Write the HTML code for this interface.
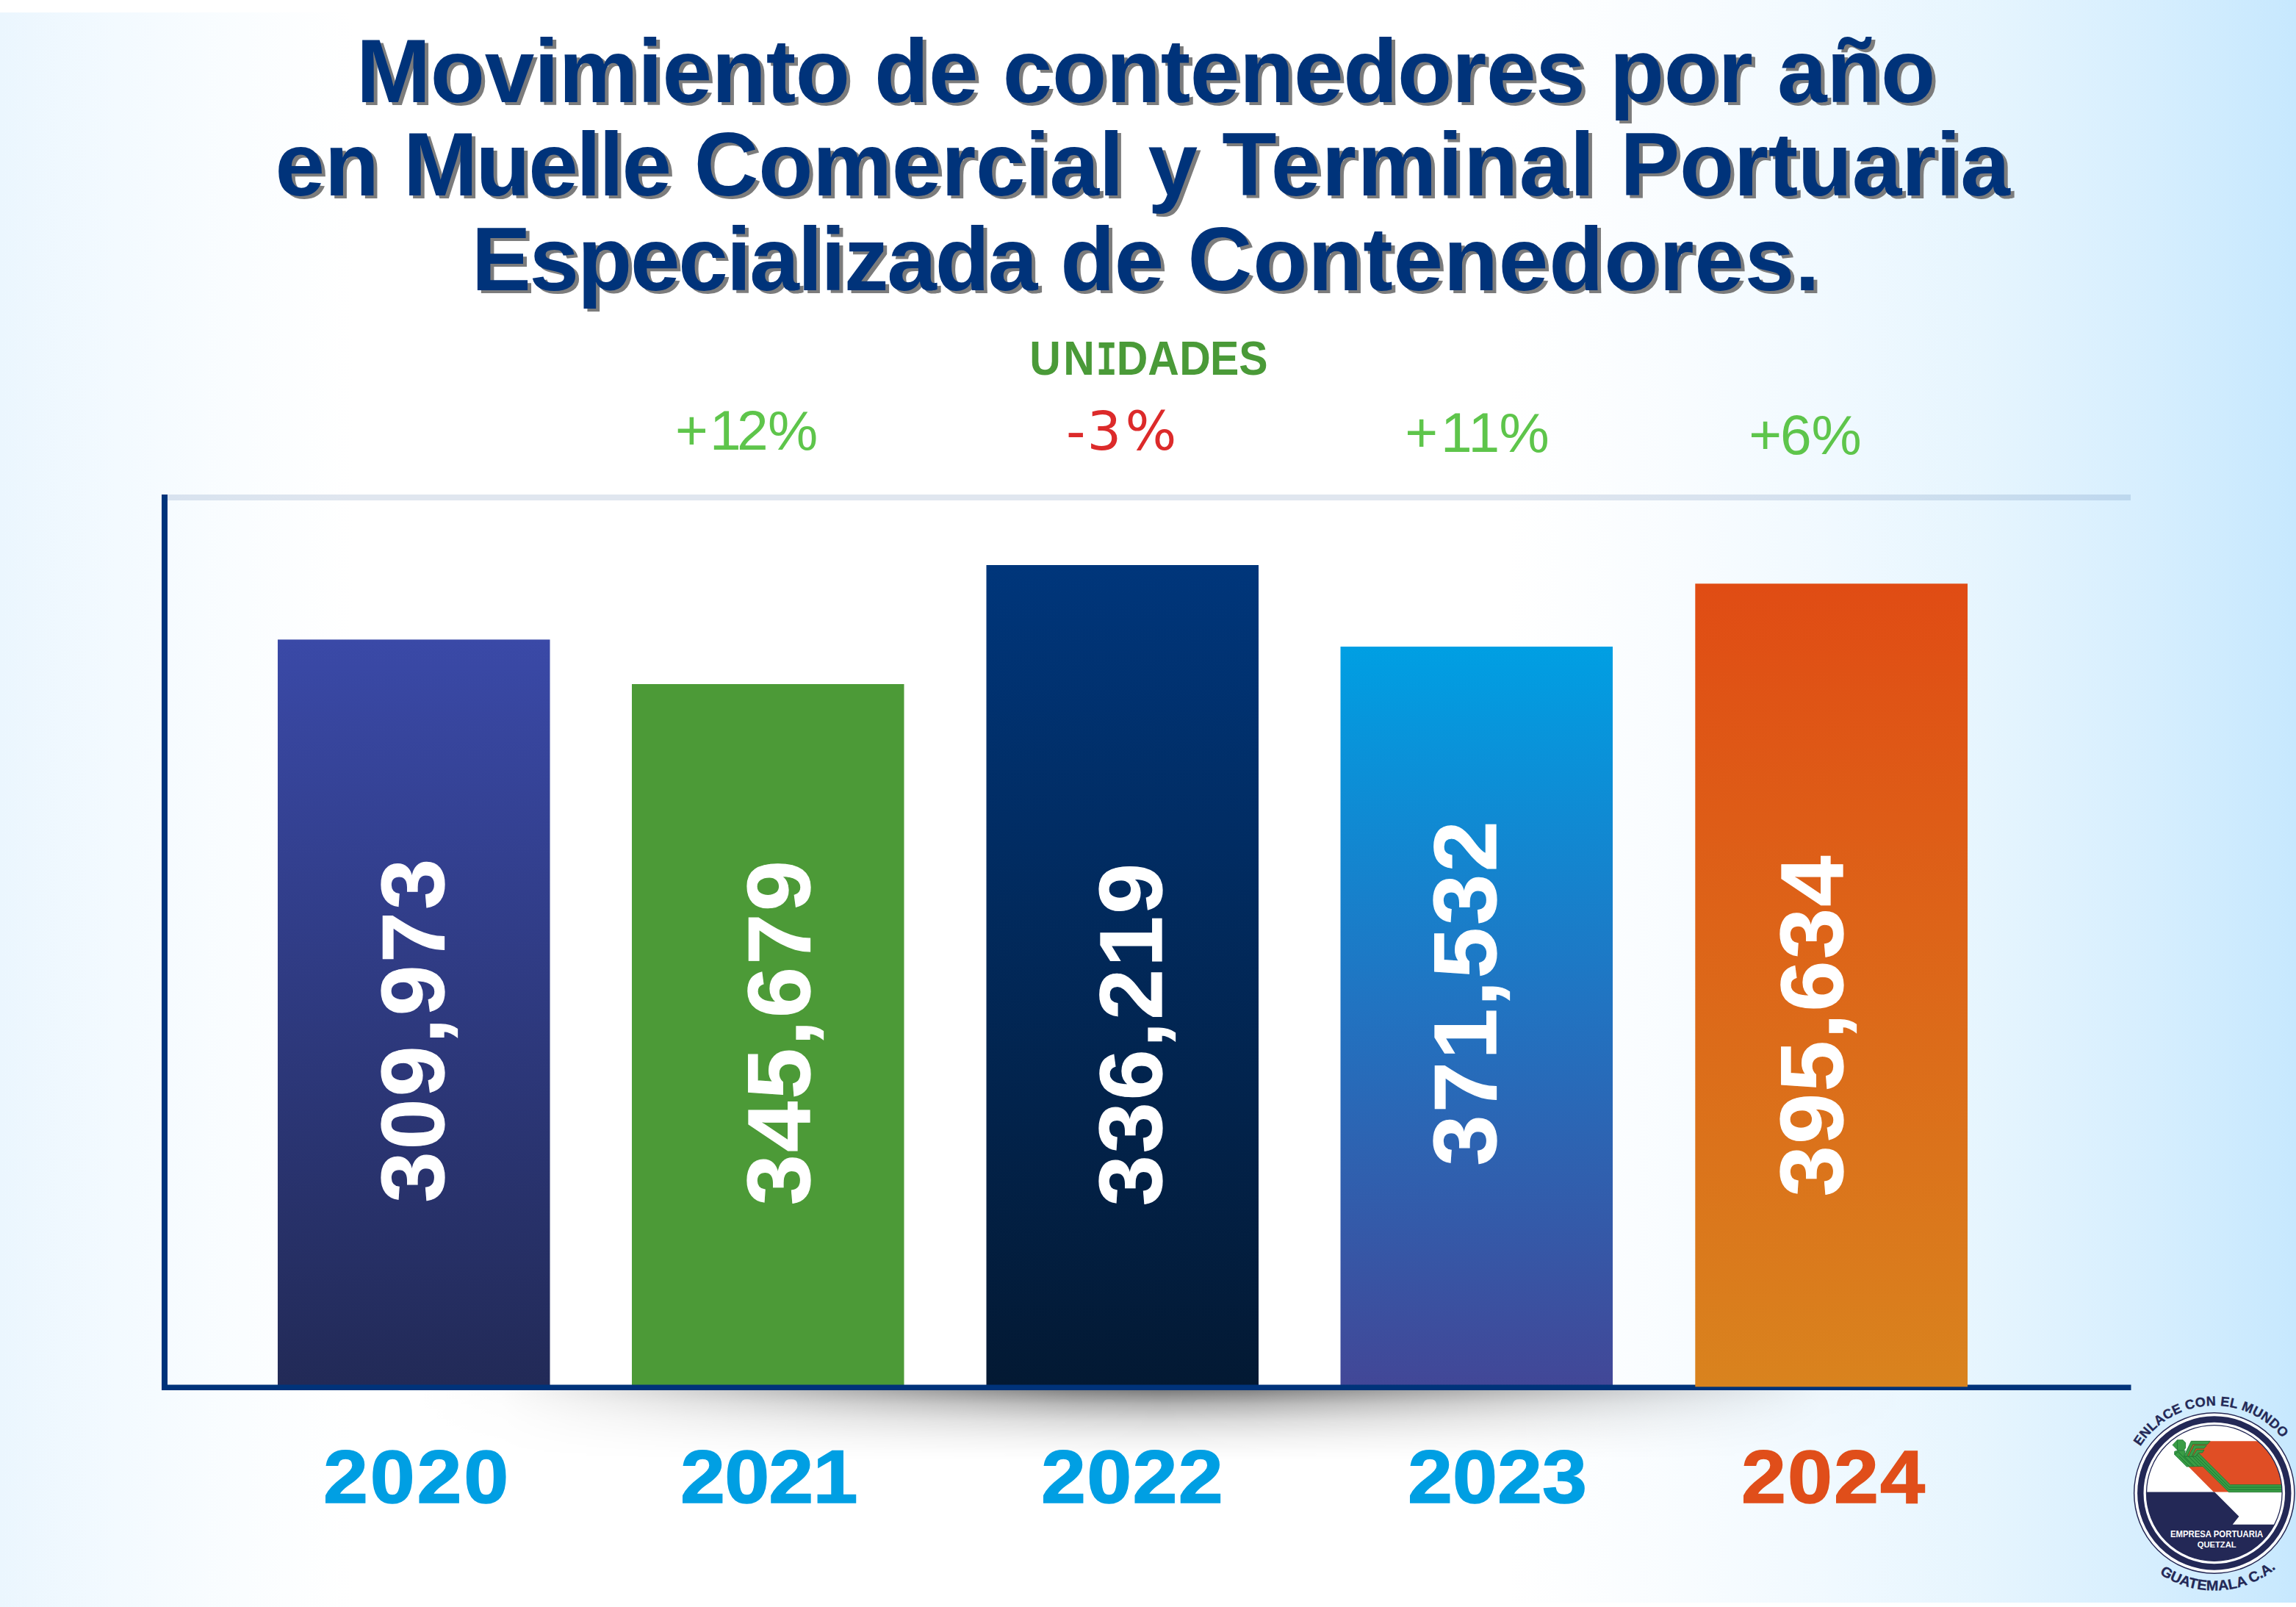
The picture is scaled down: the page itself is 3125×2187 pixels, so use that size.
<!DOCTYPE html>
<html lang="es">
<head>
<meta charset="utf-8">
<title>Movimiento de contenedores por año</title>
<style>
html,body{margin:0;padding:0;background:#fff;}
body{width:3125px;height:2187px;position:relative;overflow:hidden;font-family:"Liberation Sans",sans-serif;}
#bgL{position:absolute;left:0;top:16.5px;width:520px;height:2170.5px;background:linear-gradient(90deg,#ebf6fe 0px,#f3faff 160px,#fafdff 330px,#ffffff 480px);}
#bgR{position:absolute;left:2050px;top:0;width:1075px;height:2180.7px;background:linear-gradient(90deg,#ffffff 0px,#f8fcff 250px,#f0f9ff 450px,#e6f5fe 650px,#d8effe 850px,#c7e8fe 1075px);}
.t{position:absolute;left:0;width:3125px;text-align:center;white-space:nowrap;font-weight:bold;font-size:121.5px;line-height:130px;color:#00337a;letter-spacing:0px;text-shadow:5px 4px 0 #7c7c7c;}
svg{position:absolute;left:0;top:0;}
</style>
</head>
<body>
<div id="bgL"></div><div id="bgR"></div>
<div class="t" id="t1" style="top:31.5px;letter-spacing:-0.33px;transform:translateX(-3px)">Movimiento de contenedores por año</div>
<div class="t" id="t2" style="top:159.4px;letter-spacing:-0.35px;transform:translateX(-7.5px)">en <span style="letter-spacing:-2.6px">Muelle</span> Comercial y <span style="letter-spacing:1.4px">Terminal</span> Portuaria</div>
<div class="t" id="t3" style="top:288px;letter-spacing:-0.7px;transform:translateX(-2.8px)"><span style="letter-spacing:-2.2px">Especializada</span> de <span style="letter-spacing:0.8px">Contenedores.</span></div>
<svg width="3125" height="2187" viewBox="0 0 3125 2187">
<defs>
<linearGradient id="g1" x1="0" y1="0" x2="0" y2="1"><stop offset="0" stop-color="#3a49a7"/><stop offset="1" stop-color="#222a57"/></linearGradient>
<linearGradient id="g3" x1="0" y1="0" x2="0" y2="1"><stop offset="0" stop-color="#00367b"/><stop offset="1" stop-color="#031933"/></linearGradient>
<linearGradient id="g4" x1="0" y1="0" x2="0" y2="1"><stop offset="0" stop-color="#009fe3"/><stop offset="0.5" stop-color="#2272c0"/><stop offset="1" stop-color="#424797"/></linearGradient>
<linearGradient id="g5" x1="0" y1="0" x2="0" y2="1"><stop offset="0" stop-color="#e04c14"/><stop offset="1" stop-color="#d9831e"/></linearGradient>
<linearGradient id="shv" x1="0" y1="0" x2="0" y2="1"><stop offset="0" stop-color="#000" stop-opacity="0.52"/><stop offset="0.22" stop-color="#000" stop-opacity="0.29"/><stop offset="0.46" stop-color="#000" stop-opacity="0.14"/><stop offset="0.7" stop-color="#000" stop-opacity="0.056"/><stop offset="0.88" stop-color="#000" stop-opacity="0.018"/><stop offset="1" stop-color="#000" stop-opacity="0"/></linearGradient>
<linearGradient id="shh" x1="0" y1="0" x2="1" y2="0"><stop offset="0" stop-color="#000"/><stop offset="0.06" stop-color="#080808"/><stop offset="0.44" stop-color="#efefef"/><stop offset="0.5" stop-color="#fff"/><stop offset="0.56" stop-color="#efefef"/><stop offset="0.94" stop-color="#080808"/><stop offset="1" stop-color="#000"/></linearGradient>
<mask id="shm" maskUnits="userSpaceOnUse" x="550" y="1885" width="2060" height="110"><rect x="560" y="1885" width="2040" height="110" fill="url(#shh)"/></mask>
</defs>
<!-- shadow -->
<rect x="560" y="1891" width="2040" height="96" fill="url(#shv)" mask="url(#shm)"/>
<!-- grid/top line -->
<rect x="226" y="673" width="2674" height="8" fill="#00337a" fill-opacity="0.12"/>
<!-- bars -->
<rect x="378" y="870.4" width="370.5" height="1015" fill="url(#g1)"/>
<rect x="860" y="931" width="370.5" height="955" fill="#4c9a37"/>
<rect x="1342.5" y="769" width="370.5" height="1117" fill="url(#g3)"/>
<rect x="1824.5" y="880" width="370.5" height="1006" fill="url(#g4)"/>
<!-- axes -->
<rect x="220" y="673" width="8" height="1219" fill="#00337a"/>
<rect x="220" y="1884.5" width="2680.5" height="7.5" fill="#00337a"/>
<rect x="2307.3" y="794.3" width="370.7" height="1093" fill="url(#g5)"/>
<!-- bar labels -->
<g font-family="'Liberation Sans',sans-serif" font-weight="bold" font-size="120" fill="#fff" stroke="#fff" stroke-width="1.2">
<text transform="translate(604.2 1636.5) rotate(-90) scale(1.03 1)" letter-spacing="3.35">309,973</text>
<text transform="translate(1102.1 1640.3) rotate(-90) scale(1.03 1)" letter-spacing="3.6">345,679</text>
<text transform="translate(1580.8 1641.2) rotate(-90) scale(1.03 1)" letter-spacing="3.15">336,219</text>
<text transform="translate(2035.7 1586.5) rotate(-90) scale(1.03 1)" letter-spacing="3.6">371,532</text>
<text transform="translate(2508.1 1628.2) rotate(-90) scale(1.03 1)" letter-spacing="2.7">395,634</text>
</g>
<!-- units -->
<text id="unid" x="1539.84 1590.50 1639.68 1669.93 1716.71 1764.05 1809.86 1853.02" y="510.4" font-family="'Liberation Sans',sans-serif" font-weight="bold" font-size="64.8" fill="#4a9a38" transform="scale(0.91 1)">UN<tspan font-family="'Liberation Mono',monospace" font-size="66.4" textLength="31.08" lengthAdjust="spacingAndGlyphs">I</tspan>DADES</text>
<!-- percentages -->
<g font-family="'Liberation Sans',sans-serif" font-size="76.7" fill="#5ec54b">
<text x="919 966 1003 1045.1" y="611.6">+12%</text>
<text x="1912.2 1960.9 1998.5 2040.6" y="614.8">+11%</text>
<text x="2380.3 2423.1 2465.6" y="618.3">+6%</text>
</g>
<text x="1451 1479.5 1531.5" y="612.3" font-family="'DejaVu Sans',sans-serif" font-size="73.5" fill="#dc2a2a">-3%</text>
<!-- years -->
<g font-family="'Liberation Sans',sans-serif" font-weight="bold" font-size="102.5" fill="#009fe3" stroke="#009fe3" stroke-width="1.5">
<text transform="translate(440 2045.3) scale(1.07 1)" letter-spacing="2.6">2020</text>
<text transform="translate(926 2045.3) scale(1.07 1)" letter-spacing="-0.8">2021</text>
<text transform="translate(1417 2045.3) scale(1.07 1)" letter-spacing="1.2">2022</text>
<text transform="translate(1916 2045.3) scale(1.07 1)" letter-spacing="0">2023</text>
<text transform="translate(2370 2045.3) scale(1.07 1)" letter-spacing="1.9" fill="#e04e1a" stroke="#e04e1a">2024</text>
</g>
<!-- logo -->
<defs>
<clipPath id="lc"><circle cx="3013.8" cy="2032" r="92.3"/></clipPath>
<path id="arcTop" d="M 2913.1 1968.6 A 119 119 0 0 1 3106.3 1957.1"/>
<path id="arcBot" d="M 2939.3 2141.6 A 132.5 132.5 0 0 0 3097.9 2134.4"/>
</defs>
<g id="logo">
<circle cx="3013.8" cy="2032" r="109.9" fill="#fff"/>
<circle cx="3013.8" cy="2032" r="109.15" fill="none" stroke="#232856" stroke-width="1.5"/>
<circle cx="3013.8" cy="2032" r="100.5" fill="none" stroke="#232856" stroke-width="8.4"/>
<g clip-path="url(#lc)">
<rect x="2920" y="1938" width="190" height="190" fill="#fff"/>
<!-- orange -->
<polygon points="2983.5,1961.3 3110,1961.3 3110,2030.5 3012.9,2030.5 2978.7,1995.9 2975.5,1982.2" fill="#e04e25"/>
<!-- navy -->
<polygon points="2915,2030.4 3014.1,2030.4 3047.4,2063.7 3038.7,2074.7 3110,2074.7 3110,2130 2915,2130" fill="#232856"/>
<!-- green band + body -->
<polygon points="2959.7,1975.4 2964.2,1973.9 2974.2,1974.2 2972.6,1981.8 2988.3,1982.2 2992.6,1977.8 3035.5,2020.7 3110,2020.7 3110,2030.6 3033.5,2030.6 2998,1995.5 2976.3,1995.9 2959.7,1979.4" fill="#3a9d45" stroke="#1e7c36" stroke-width="0.9" stroke-linejoin="round"/>
<!-- stripes on band -->
<g fill="none" stroke="#1a7532" stroke-width="1">
<polyline points="2990.3,1980.2 3034.2,2024 3110,2024"/>
<polyline points="2988.2,1982.6 3033.6,2027.3 3110,2027.3"/>
<polyline points="2972.6,1981.8 2986.6,1995.7"/>
<polyline points="2966,1981.8 2979.9,1995.8"/>
<polyline points="2978.5,1982 2992.3,1995.6"/>
<polyline points="2983.8,1982.1 2996,1994.3"/>
<polyline points="2959.7,1979.4 2964.4,1975.6 2984.5,1995.7"/>
</g>
<!-- crest -->
<g fill="#3a9d45" stroke="#1e7c36" stroke-width="0.9" stroke-linejoin="round">
<polygon points="2972.6,1981.8 2982.3,1961.3 3008.1,1961.3 3004.5,1965.5 2984.7,1965.5 2976.7,1982.2"/>
<polygon points="2978.7,1982.2 2986.3,1967.1 3003.3,1967.1 3000,1971.1 2988.8,1971.1 2983.1,1982.2"/>
<polygon points="2984.3,1982.2 2990,1973.4 3000,1973.4 2997.6,1977 2992.4,1977 2988.3,1982.2"/>
<!-- head -->
<polygon points="2957.1,1966.5 2963.4,1959.8 2971,1959.8 2974.6,1963.3 2974.6,1970.5 2972.2,1973.8 2964.2,1973.8"/>
<polyline points="2963.4,1959.8 2963.6,1973.6" fill="none"/>
</g>
</g>
<circle cx="3013.8" cy="2032" r="92.3" fill="none" stroke="#232856" stroke-width="1.3"/>
<g font-family="'Liberation Sans',sans-serif" font-weight="bold" fill="#fff" text-anchor="middle">
<text x="3017.1" y="2091.9" font-size="11.9" textLength="126.4" lengthAdjust="spacingAndGlyphs">EMPRESA PORTUARIA</text>
<text x="3017.2" y="2105.8" font-size="11.5" textLength="53.1" lengthAdjust="spacingAndGlyphs">QUETZAL</text>
</g>
<g font-family="'Liberation Sans',sans-serif" font-weight="bold" fill="#232856">
<text font-size="18" stroke="#232856" stroke-width="0.35" textLength="226.0" lengthAdjust="spacing"><textPath href="#arcTop" textLength="226.0" lengthAdjust="spacing">ENLACE CON EL MUNDO</textPath></text>
<text font-size="19.4" stroke="#232856" stroke-width="0.3" textLength="170" lengthAdjust="spacingAndGlyphs"><textPath href="#arcBot" textLength="170" lengthAdjust="spacingAndGlyphs">GUATEMALA C.A.</textPath></text>
</g>
</g>
</svg>
</body>
</html>
